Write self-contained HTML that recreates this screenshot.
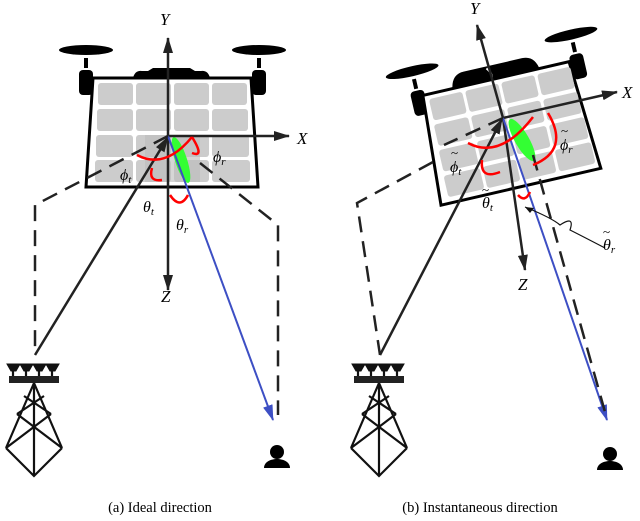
<!DOCTYPE html><html><head><style>body{margin:0;background:#fff}svg{display:block}text{font-family:"Liberation Serif",serif}.i{font-style:italic}</style></head><body>
<svg width="640" height="521" viewBox="0 0 640 521" xmlns="http://www.w3.org/2000/svg">
<defs>
<marker id="ak" markerWidth="16" markerHeight="10" refX="15" refY="5" orient="auto" markerUnits="userSpaceOnUse"><path d="M0,0L16,5L0,10z" fill="#222"/></marker>
<marker id="abl" markerWidth="16" markerHeight="10" refX="15" refY="5" orient="auto" markerUnits="userSpaceOnUse"><path d="M0,0L16,5L0,10z" fill="#3d4fc4"/></marker>
<g id="tower" stroke="#111" stroke-width="2.2" fill="none">
<path d="M-28,-112h13l-4,7h-5z M-15,-112h13l-4,7h-5z M-2,-112h13l-4,7h-5z M11,-112h13l-4,7h-5z" fill="#111" stroke-width="1"/>
<path d="M-22,-105v7 M-9,-105v7 M4,-105v7 M17,-105v7" />
<rect x="-26" y="-100" width="50" height="7" fill="#222" stroke="none"/>
<path d="M-1,-93V0 M-1,-93L-29,-28 M-1,-93L27,-28 M-29,-28L-1,0L27,-28 M-29,-28L16,-62 M27,-28L-18,-62 M-18,-62L9,-80 M16,-62L-11,-80"/>
</g>
<g id="person" fill="#000"><circle cx="0" cy="-10" r="7"/><path d="M-13,6C-13,-6 13,-6 13,6Z"/></g>
</defs>

<!-- LEFT PANEL -->
<g>
<ellipse cx="86" cy="50" rx="27" ry="5" fill="#000"/>
<ellipse cx="259" cy="50" rx="27" ry="5" fill="#000"/>
<rect x="84" y="58" width="4" height="10" fill="#000"/><rect x="257" y="58" width="4" height="10" fill="#000"/>
<rect x="79" y="70" width="14" height="25" rx="4" fill="#000"/><rect x="252" y="70" width="14" height="25" rx="4" fill="#000"/>
<path d="M133,78 Q135,70 142,71 L148,71 L153,68 L190,68 L195,71 L201,71 Q208,70 210,78Z" fill="#000"/>
<path d="M93,78H251L258,187H86Z" fill="#fff" stroke="#000" stroke-width="3"/>
<g fill="#ccc">
<rect x="98" y="83" width="35" height="22" rx="3"/><rect x="136" y="83" width="35" height="22" rx="3"/><rect x="174" y="83" width="35" height="22" rx="3"/><rect x="212" y="83" width="35" height="22" rx="3"/>
<rect x="97" y="109" width="36" height="22" rx="3"/><rect x="136" y="109" width="35" height="22" rx="3"/><rect x="174" y="109" width="35" height="22" rx="3"/><rect x="212" y="109" width="36" height="22" rx="3"/>
<rect x="96" y="135" width="37" height="22" rx="3"/><rect x="136" y="135" width="35" height="22" rx="3"/><rect x="174" y="135" width="35" height="22" rx="3"/><rect x="212" y="135" width="37" height="22" rx="3"/>
<rect x="95" y="160" width="38" height="22" rx="3"/><rect x="136" y="160" width="35" height="22" rx="3"/><rect x="174" y="160" width="35" height="22" rx="3"/><rect x="212" y="160" width="38" height="22" rx="3"/>
</g>
<rect x="145" y="135" width="55" height="47" fill="#bbb" opacity="0.6"/>
<ellipse cx="181" cy="160" rx="6" ry="24" transform="rotate(-18 181 160)" fill="#3f3"/>
<line x1="168" y1="136" x2="168" y2="38" stroke="#222" stroke-width="2.5" marker-end="url(#ak)"/>
<line x1="168" y1="136" x2="289" y2="136" stroke="#222" stroke-width="2.5" marker-end="url(#ak)"/>
<line x1="168" y1="136" x2="168" y2="290" stroke="#222" stroke-width="2.5" marker-end="url(#ak)"/>
<line x1="35" y1="355" x2="168" y2="137" stroke="#222" stroke-width="2.5" marker-end="url(#ak)"/>
<line x1="168" y1="136" x2="273" y2="420" stroke="#3d4fc4" stroke-width="2" marker-end="url(#abl)"/>
<path d="M168,136L35,205V355" fill="none" stroke="#222" stroke-width="2.5" stroke-dasharray="16,9"/>
<path d="M200,163L278,225V415" fill="none" stroke="#222" stroke-width="2.5" stroke-dasharray="16,9"/>
<g fill="none" stroke="#f00" stroke-width="2.5">
<path d="M137,155Q165,170 192,137"/><path d="M192,137Q205,158 192,153"/>
<path d="M152,168Q148,182 162,180"/><path d="M170,195Q180,210 188,195"/>
</g>
<g class="i">
<text x="160" y="25" font-size="17">Y</text>
<text x="297" y="144" font-size="17">X</text>
<text x="161" y="302" font-size="17">Z</text>
<text x="120" y="180" font-size="16">ϕ<tspan font-size="11" dy="3">t</tspan></text>
<text x="213" y="162" font-size="16">ϕ<tspan font-size="11" dy="3">r</tspan></text>
<text x="143" y="212" font-size="16">θ<tspan font-size="11" dy="3">t</tspan></text>
<text x="176" y="230" font-size="16">θ<tspan font-size="11" dy="3">r</tspan></text>
</g>
<use href="#tower" x="35" y="476"/>
<use href="#person" x="277" y="462"/>
</g>

<!-- RIGHT PANEL -->
<g>
<g transform="rotate(-13 503 118)">
<ellipse cx="425" cy="52" rx="27" ry="5" fill="#000"/>
<ellipse cx="588" cy="52" rx="27" ry="5" fill="#000"/>
<rect x="423" y="60" width="4" height="10" fill="#000"/><rect x="586" y="60" width="4" height="10" fill="#000"/>
<rect x="418" y="72" width="14" height="25" rx="4" fill="#000"/><rect x="581" y="72" width="14" height="25" rx="4" fill="#000"/>
<path d="M460,80 Q462,64 475,64 L535,64 Q548,64 550,80Z" fill="#000"/>
<path d="M498,66 Q505,74 498,82" stroke="#fff" stroke-width="2" fill="none"/>
<path d="M430,78H580L587,189H423Z" fill="#fff" stroke="#000" stroke-width="3"/>
<g fill="#ccc">
<rect x="435" y="83" width="34" height="22" rx="3"/><rect x="472" y="83" width="34" height="22" rx="3"/><rect x="509" y="83" width="34" height="22" rx="3"/><rect x="546" y="83" width="34" height="22" rx="3"/>
<rect x="434" y="109" width="35" height="22" rx="3"/><rect x="472" y="109" width="34" height="22" rx="3"/><rect x="509" y="109" width="34" height="22" rx="3"/><rect x="546" y="109" width="35" height="22" rx="3"/>
<rect x="433" y="135" width="36" height="22" rx="3"/><rect x="472" y="135" width="34" height="22" rx="3"/><rect x="509" y="135" width="34" height="22" rx="3"/><rect x="546" y="135" width="36" height="22" rx="3"/>
<rect x="432" y="161" width="37" height="22" rx="3"/><rect x="472" y="161" width="34" height="22" rx="3"/><rect x="509" y="161" width="34" height="22" rx="3"/><rect x="546" y="161" width="37" height="22" rx="3"/>
</g>
</g>
<ellipse cx="522" cy="140" rx="7" ry="24" transform="rotate(-30 522 140)" fill="#3f3"/>
<line x1="503" y1="118" x2="477" y2="25" stroke="#222" stroke-width="2.5" marker-end="url(#ak)"/>
<line x1="503" y1="118" x2="617" y2="92" stroke="#222" stroke-width="2.5" marker-end="url(#ak)"/>
<line x1="503" y1="118" x2="525" y2="270" stroke="#222" stroke-width="2.5" marker-end="url(#ak)"/>
<line x1="380" y1="355" x2="502" y2="119" stroke="#222" stroke-width="2.5" marker-end="url(#ak)"/>
<line x1="503" y1="118" x2="607" y2="420" stroke="#3d4fc4" stroke-width="2" marker-end="url(#abl)"/>
<path d="M503,118L444,145 M433,162L357,203L380,355" fill="none" stroke="#222" stroke-width="2.5" stroke-dasharray="16,9"/>
<path d="M533,155L605,412" fill="none" stroke="#222" stroke-width="2.5" stroke-dasharray="16,9"/>
<g fill="none" stroke="#f00" stroke-width="2.5">
<path d="M468,143Q500,160 533,117"/><path d="M548,113Q570,150 533,165"/>
<path d="M482,160Q480,180 500,172"/><path d="M518,195Q525,203 530,192"/>
</g>
<path d="M605,248Q580,235 570,230 Q575,215 560,225 Q552,218 525,207" fill="none" stroke="#111" stroke-width="1.2"/>
<path d="M525,207l9,1l-4,5z" fill="#111"/>
<g class="i">
<text x="470" y="14" font-size="17">Y</text>
<text x="622" y="98" font-size="17">X</text>
<text x="518" y="290" font-size="17">Z</text>
<text x="450" y="172" font-size="16">ϕ<tspan font-size="11" dy="3">t</tspan></text><text x="451" y="157" font-size="13" font-style="normal">~</text>
<text x="560" y="150" font-size="16">ϕ<tspan font-size="11" dy="3">r</tspan></text><text x="561" y="135" font-size="13" font-style="normal">~</text>
<text x="482" y="208" font-size="16">θ<tspan font-size="11" dy="3">t</tspan></text><text x="482" y="194" font-size="13" font-style="normal">~</text>
<text x="603" y="250" font-size="16">θ<tspan font-size="11" dy="3">r</tspan></text><text x="603" y="236" font-size="13" font-style="normal">~</text>
</g>
<use href="#tower" x="380" y="476"/>
<use href="#person" x="610" y="464"/>
</g>

<text x="160" y="512" font-size="14.5" text-anchor="middle">(a) Ideal direction</text>
<text x="480" y="512" font-size="14.5" text-anchor="middle">(b) Instantaneous direction</text>
</svg>
</body></html>
